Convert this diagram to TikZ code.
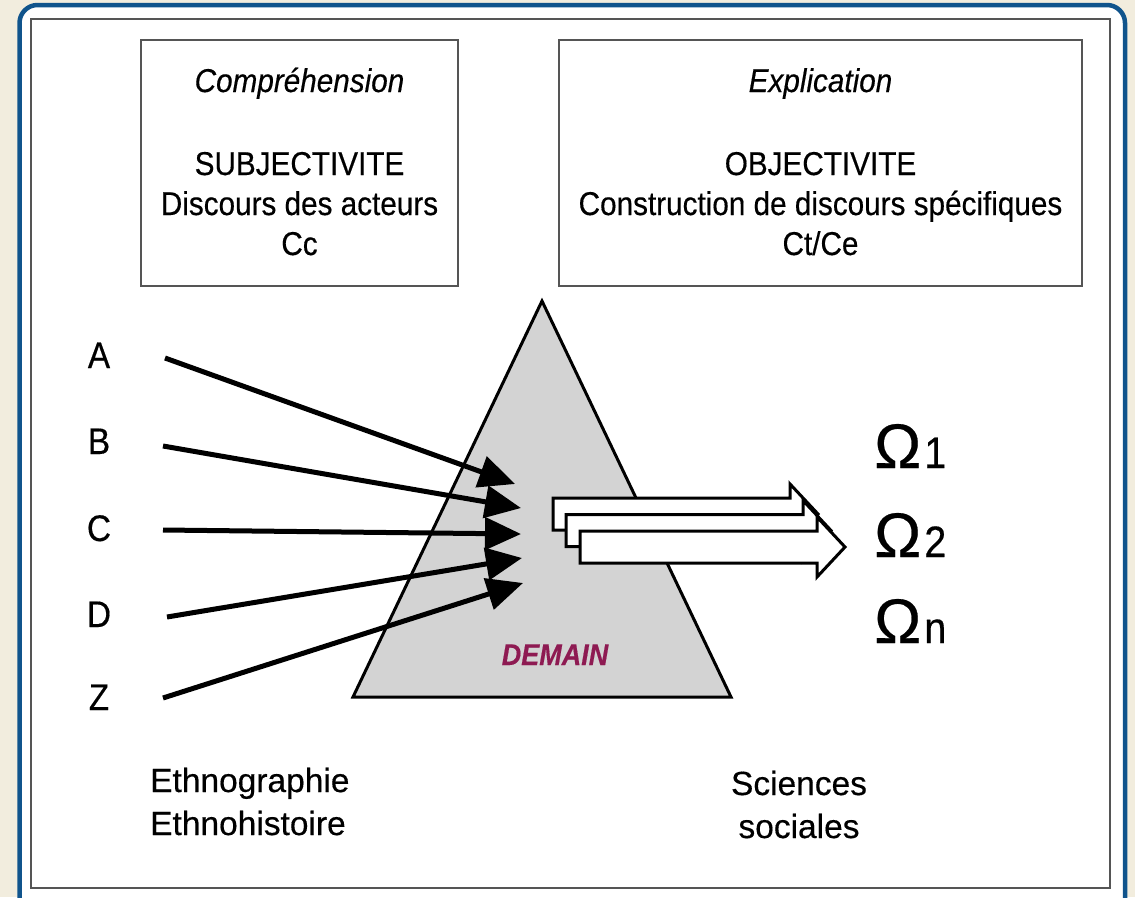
\documentclass[tikz,border=0pt]{standalone}
\usepackage{fontspec}
\setmainfont[FakeBold=0.4]{Liberation Sans}
\newfontfamily\boxf[FakeStretch=0.9,FakeBold=0.4]{Liberation Sans}
\usetikzlibrary{arrows.meta}
\definecolor{cream}{RGB}{242,237,222}
\definecolor{frameblue}{RGB}{16,84,140}
\definecolor{framegray}{RGB}{85,85,85}
\definecolor{prism}{RGB}{211,211,211}
\definecolor{demaincol}{RGB}{142,26,82}
\begin{document}
\begin{tikzpicture}[x=1pt,y=-1pt,
  framebox/.style={draw=framegray,line width=2.2pt,inner sep=0pt},
  boxtxt/.style={anchor=base,inner sep=0pt,font=\boxf\fontsize{33}{38}\selectfont},
  boxital/.style={boxtxt,font=\boxf\itshape\fontsize{33}{38}\selectfont},
  letter/.style={anchor=base,inner sep=0pt,font=\boxf\fontsize{37}{40}\selectfont},
  bottomtxt/.style={inner sep=0pt,font=\fontsize{33.5}{40}\selectfont},
  inarrow/.style={line width=5pt,-{Triangle[length=36pt,width=32pt]}},
  blockarrow/.style={draw=black,fill=white,line width=3pt,line join=miter},
  omega/.style={anchor=base west,inner sep=0pt}]
\useasboundingbox (0,0) rectangle (1135,897);
\fill[cream] (0,0) rectangle (1135,897);
\begin{scope}
\clip (0,0) rectangle (1135,897);
\draw[frameblue,line width=4.5pt,fill=white,rounded corners=18pt] (19.5,5) rectangle (1125,920);
\end{scope}
\draw[framegray,line width=2.5pt] (31,19) rectangle (1110,888);

% boxes
\node[framebox,minimum width=317pt,minimum height=246pt] (box1) at (299.5,163) {};
\node[framebox,minimum width=523pt,minimum height=246pt] (box2) at (820.5,163) {};
\node[boxital] (comp) at (299.5,92) {Compréhension};
\node[boxtxt] (subj) at (299.5,175) {SUBJECTIVITE};
\node[boxtxt] (disc) at (299.5,215) {Discours des acteurs};
\node[boxtxt] (cc) at (299.5,255) {Cc};
\node[boxital] (expl) at (820.5,92) {Explication};
\node[boxtxt] (obj) at (820.5,175) {OBJECTIVITE};
\node[boxtxt] (cons) at (820.5,215) {Construction de discours spécifiques};
\node[boxtxt] (ctce) at (820.5,255) {Ct/Ce};

% prism
\coordinate (apex) at (542,301);
\coordinate (bl) at (353,697);
\coordinate (br) at (731,697);
\draw[fill=prism,line width=3pt,line join=miter] (apex) -- (bl) -- (br) -- cycle;
\node[anchor=base,inner sep=0pt,text=demaincol,font=\boxf\bfseries\itshape\fontsize{30}{34}\selectfont] (demain) at (555,665) {DEMAIN};

% letters
\node[letter] (A) at (99,368) {A};
\node[letter] (B) at (99,454) {B};
\node[letter] (C) at (99,541) {C};
\node[letter] (D) at (99,627) {D};
\node[letter] (Z) at (99,710) {Z};

\coordinate (As) at (165,358); \coordinate (Ae) at (515,484);
\coordinate (Bs) at (163,446); \coordinate (Be) at (521,508);
\coordinate (Cs) at (163,530); \coordinate (Ce) at (521,534);
\coordinate (Ds) at (167,617); \coordinate (De) at (522,558);
\coordinate (Zs) at (163,698); \coordinate (Ze) at (523,583);
\draw[inarrow] (As) -- (Ae);
\draw[inarrow] (Bs) -- (Be);
\draw[inarrow] (Cs) -- (Ce);
\draw[inarrow] (Ds) -- (De);
\draw[inarrow] (Zs) -- (Ze);

% block arrows
\foreach \dx/\dy in {0/0,13/16.5,27/33}{
  \draw[blockarrow,shift={(\dx pt,-\dy pt)}]
    (553,498) -- (790,498) -- (790,484) -- (818,514) -- (790,544) -- (790,530) -- (553,530) -- cycle;
}

% omegas
\node[omega] (o1) at (874,468) {\fontsize{63}{70}\selectfont Ω\hspace{3pt}{\boxf\fontsize{44}{48}\selectfont 1}};
\node[omega] (o2) at (874,557) {\fontsize{63}{70}\selectfont Ω\hspace{3pt}{\boxf\fontsize{44}{48}\selectfont 2}};
\node[omega] (on) at (874,643) {\fontsize{63}{70}\selectfont Ω\hspace{3pt}{\boxf\fontsize{44}{48}\selectfont n}};

% bottom texts
\node[bottomtxt,anchor=base west] (eth1) at (150,792) {Ethnographie};
\node[bottomtxt,anchor=base west] (eth2) at (150,835) {Ethnohistoire};
\node[bottomtxt,anchor=base] (sci1) at (799,795) {Sciences};
\node[bottomtxt,anchor=base] (sci2) at (799,838) {sociales};
\end{tikzpicture}
\end{document}
